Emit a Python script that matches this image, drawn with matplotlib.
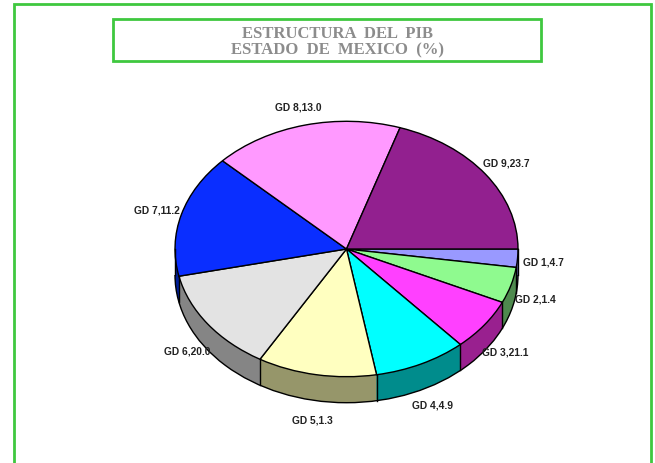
import numpy as np
import matplotlib
matplotlib.use('Agg')
import matplotlib.pyplot as plt
from matplotlib.patches import Rectangle, Arc

# Slice sizes (degrees of each wedge, clockwise from 3 o'clock)
labels = ['GD 1,4.7', 'GD 2,1.4', 'GD 3,21.1', 'GD 4,4.9', 'GD 5,1.3',
          'GD 6,20.0', 'GD 7,11.2', 'GD 8,13.0', 'GD 9,23.7']
slice_deg = [8.3, 16.4, 23.7, 31.5, 40.4, 47.4, 56.0, 64.5, 71.8]

top_colors = ['#9999FF', '#8FFA8F', '#FF40FF', '#00FFFF', '#FFFFC0',
              '#E3E3E3', '#0A2EFF', '#FF99FF', '#92208F']
side_colors = ['#5C5C99', '#4E8A4E', '#99208F', '#008C8C', '#96966A',
               '#858585', '#001E99', '#996099', '#5A145A']

title_lines = ['ESTRUCTURA  DEL  PIB', 'ESTADO  DE  MEXICO  (%)']

W, H = 655, 464
fig = plt.figure(figsize=(W / 100, H / 100), dpi=100)
fig.patch.set_facecolor('white')

# pie axes: radius 1 -> 171.5 px wide, 127.7 px tall (tilted view)
cx, cy, rx, ry = 346.5, 250.0, 171.5, 127.7
depth = 26 / ry
ax = fig.add_axes([(cx - 1.5 * rx) / W, (H - cy - 1.5 * ry) / H,
                   3 * rx / W, 3 * ry / H])

# side walls: stack of darker pies from the bottom up
for k in np.linspace(depth, 0, 28):
    ax.pie(slice_deg, colors=side_colors, startangle=0, counterclock=False,
           center=(0, -k), wedgeprops=dict(linewidth=0))

# outline of the wall
ax.add_patch(Arc((0, -depth), 2, 2, theta1=180, theta2=360, color='black', lw=1))
for sx in (-1, 1):
    ax.plot([sx, sx], [0, -depth], color='black', lw=1)
bounds = np.cumsum(slice_deg)
for b in bounds[:-1]:
    a = np.deg2rad(-b)
    if np.sin(a) < 0:
        ax.plot([np.cos(a)] * 2, [np.sin(a), np.sin(a) - depth], color='black', lw=1)

# top face
ax.pie(slice_deg, colors=top_colors, startangle=0, counterclock=False,
       wedgeprops=dict(edgecolor='black', linewidth=1))

# labels around the pie
mids = -(bounds - np.array(slice_deg) / 2)
for lab, m in zip(labels, mids):
    a = np.deg2rad(m)
    s = np.sin(a)
    ax.text(1.15 * np.cos(a), 1.15 * s + depth * min(s, 0), lab,
            ha='center', va='center', fontsize=7.4, fontweight='bold',
            family='Liberation Sans', color='#222222')

ax.set_aspect('auto')
ax.set_xlim(-1.5, 1.5)
ax.set_ylim(-1.5, 1.5)
ax.axis('off')

# frames
green = '#3FC83F'
fig.add_artist(Rectangle((13.5 / W, -0.05), (651 - 13.5) / W, (H - 5) / H + 0.05,
                         transform=fig.transFigure, fill=False, edgecolor=green, lw=2))
fig.add_artist(Rectangle((112.5 / W, (H - 62) / H), (540.5 - 112.5) / W, 42 / H,
                         transform=fig.transFigure, fill=False, edgecolor=green, lw=2))

for i, line in enumerate(title_lines):
    fig.text(337.5 / W, (H - 34 - 16.5 * i) / H, line, ha='center', va='center',
             fontsize=12, fontweight='bold', family='Liberation Serif', color='#8C8C8C')

fig.savefig('out.png', dpi=100)
